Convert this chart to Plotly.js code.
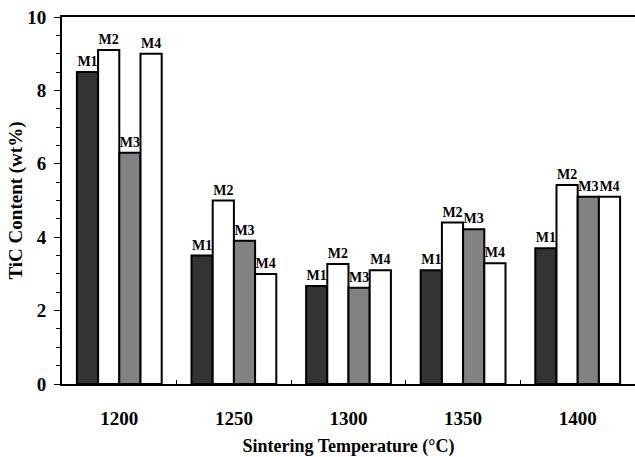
<!DOCTYPE html>
<html>
<head>
<meta charset="utf-8">
<script src="https://cdn.plot.ly/plotly-3.0.1.min.js"></script>
<style>html,body{margin:0;padding:0;background:#fff;overflow:hidden;}#chart{width:635px;height:457px;}</style>
</head>
<body>
<div id="chart"></div>
<script>
const categories = ["1200", "1250", "1300", "1350", "1400"];
const seriesNames = ["M1", "M2", "M3", "M4"];
const m1 = [8.5, 3.5, 2.67, 3.1, 3.7];
const m2 = [9.1, 5.0, 3.27, 4.4, 5.42];
const m3 = [6.3, 3.9, 2.62, 4.22, 5.1];
const m4 = [9.0, 3.0, 3.1, 3.29, 5.1];
const fills = ["#333333", "#ffffff", "#828282", "#ffffff"];

const values = [m1, m2, m3, m4];
const traces = values.map((v, i) => ({
  type: "bar",
  name: seriesNames[i],
  x: categories,
  y: v,
  text: v.map(() => "<b>" + seriesNames[i] + "</b>"),
  textposition: "outside",
  textfont: {family: "Liberation Serif, Times New Roman, serif", size: 14, color: "#000"},
  constraintext: "none",
  cliponaxis: false,
  marker: {color: fills[i], line: {color: "#000", width: 2}},
  hoverinfo: "none"
}));

const layout = {
  width: 635, height: 457,
  margin: {l: 62, r: 0, t: 17, b: 73, pad: 0, autoexpand: false},
  paper_bgcolor: "#fff", plot_bgcolor: "#fff",
  showlegend: false,
  barmode: "group",
  bargap: 0.26, bargroupgap: 0,
  font: {family: "Liberation Serif, Times New Roman, serif", color: "#000"},
  xaxis: {
    type: "category",
    range: [-0.5, 4.5],
    showline: true, linecolor: "#000", linewidth: 2, mirror: true,
    ticks: "inside", tickson: "boundaries", ticklen: 4, tickcolor: "#000", tickwidth: 1,
    ticklabelstandoff: 16,
    tickfont: {size: 19, family: "Liberation Serif, serif", weight: "bold"},
    showgrid: false, zeroline: false,
    automargin: false,
    title: {text: "<b>Sintering Temperature (°C)</b>", font: {size: 18}, standoff: 19}
  },
  yaxis: {
    range: [0, 10],
    dtick: 2,
    showline: true, linecolor: "#000", linewidth: 2,
    ticks: "outside", ticklen: 6, tickcolor: "#000", tickwidth: 1,
    minor: {dtick: 0.5, ticks: "outside", ticklen: 4, tickcolor: "#000", tickwidth: 1},
    ticklabelstandoff: 4,
    tickfont: {size: 19, family: "Liberation Serif, serif", weight: "bold"},
    showgrid: false, zeroline: false,
    automargin: false,
    title: {text: "<b>TiC Content (wt%)</b>", font: {size: 19}, standoff: 0}
  }
};

Plotly.newPlot("chart", traces, layout, {staticPlot: true, displayModeBar: false});
</script>
</body>
</html>
